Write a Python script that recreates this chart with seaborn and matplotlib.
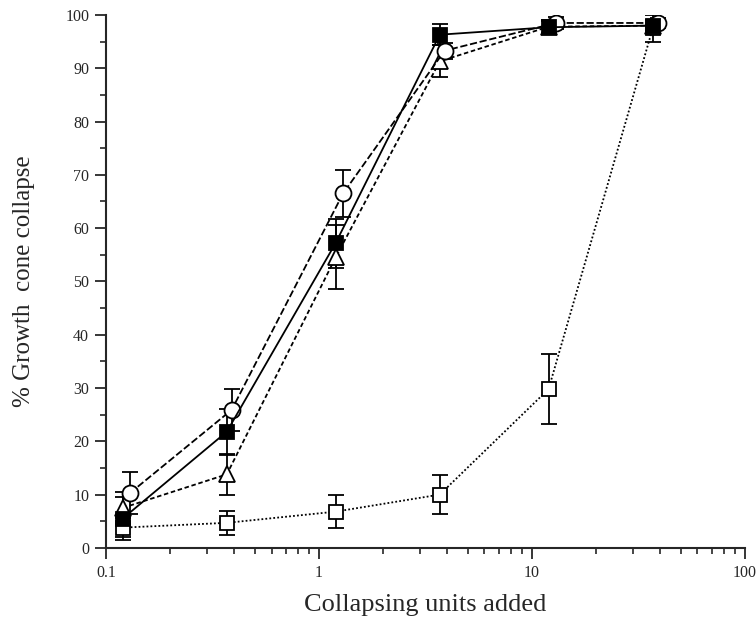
import matplotlib
matplotlib.use('Agg')
import matplotlib.pyplot as plt
import pandas as pd
import seaborn as sns
from matplotlib.ticker import LogLocator, MultipleLocator

# x positions (collapsing units); open circles sit slightly to the right
x_main = [0.12, 0.37, 1.2, 3.7, 12, 37]
x_circ = [0.13, 0.39, 1.3, 3.9, 13, 39]

filled_sq = [5.5, 21.8, 57.2, 96.3, 97.7, 98.0]
filled_sq_err = [4.0, 4.3, 4.6, 2.0, 1.2, 1.0]

open_circ = [10.3, 25.9, 66.5, 93.3, 98.5, 98.5]
open_circ_err = [4.0, 3.9, 4.5, 1.5, 1.2, 1.0]

open_tri = [7.5, 13.8, 54.5, 91.3, 97.8, 98.0]
open_tri_err = [3.0, 3.8, 6.0, 3.0, 1.2, 1.0]

open_sq = [3.8, 4.7, 6.8, 10.0, 29.8, 97.5]
open_sq_err = [1.8, 2.2, 3.1, 3.6, 6.5, 2.5]

x_ticks = [0.1, 1, 10, 100]
x_tick_labels = ['0.1', '1', '10', '100']
y_ticks = [0, 10, 20, 30, 40, 50, 60, 70, 80, 90, 100]

sns.set_style('ticks')
plt.rcParams['font.family'] = ['Liberation Serif', 'DejaVu Serif']

fig = plt.figure(figsize=(7.56, 6.24), dpi=100)
ax = fig.add_axes([0.140, 0.122, 0.845, 0.854])

series = [
    ('open_sq', x_main, open_sq, open_sq_err, 's', 'white', (0, (1, 1.2)), 10),
    ('open_tri', x_main, open_tri, open_tri_err, '^', 'white', (0, (2.5, 1.5)), 11),
    ('open_circ', x_circ, open_circ, open_circ_err, 'o', 'white', (0, (4, 1.5)), 11.5),
    ('filled_sq', x_main, filled_sq, filled_sq_err, 's', 'black', '-', 10),
]

for name, xs, ys, errs, mk, fc, ls, ms in series:
    df = pd.DataFrame({'x': xs, 'y': ys})
    ax.errorbar(xs, ys, yerr=errs, fmt='none', ecolor='black', elinewidth=1.3,
                capsize=6, capthick=1.3, zorder=2)
    sns.lineplot(data=df, x='x', y='y', ax=ax, color='black', linewidth=1.3,
                 linestyle=ls, marker=mk, markersize=ms, markerfacecolor=fc,
                 markeredgecolor='black', markeredgewidth=1.3, zorder=3)

ax.set_xscale('log')
ax.set_xlim(0.1, 100)
ax.set_ylim(0, 100)
ax.set_xticks(x_ticks)
ax.set_xticklabels(x_tick_labels)
ax.xaxis.set_minor_locator(LogLocator(base=10, subs=range(2, 10)))
ax.set_yticks(y_ticks)
ax.yaxis.set_minor_locator(MultipleLocator(5))

ax.tick_params(which='major', direction='out', length=8, width=1.3, labelsize=11.5, pad=4)
ax.tick_params(which='minor', direction='out', length=4, width=1.2)
for side in ['left', 'bottom']:
    ax.spines[side].set_linewidth(1.5)
sns.despine(ax=ax)

ax.set_xlabel('Collapsing units added', fontsize=19, labelpad=10)
ax.set_ylabel('% Growth  cone collapse', fontsize=18, labelpad=22)

fig.savefig('out.png', dpi=100)
